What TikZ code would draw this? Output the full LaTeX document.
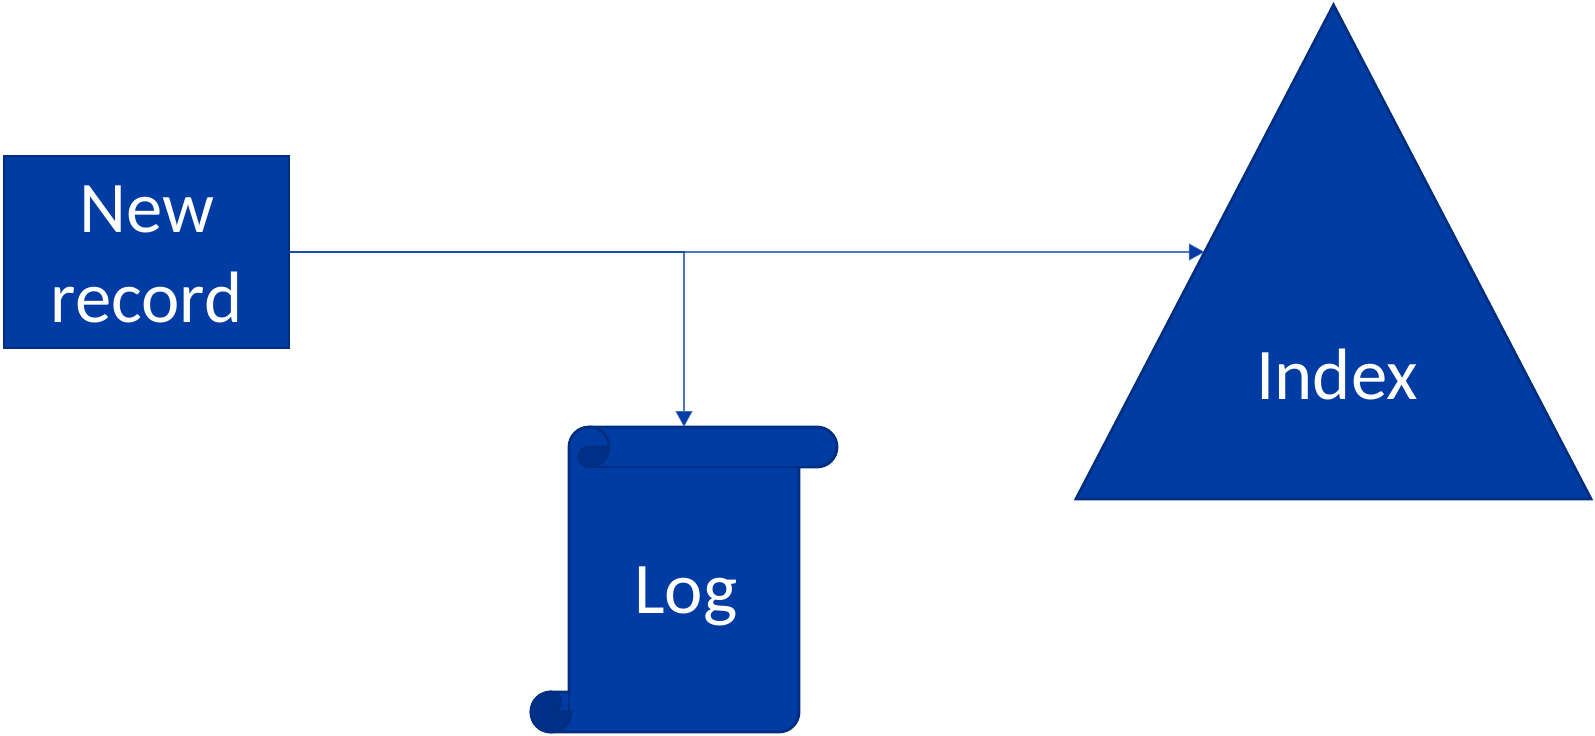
\documentclass[tikz,border=0pt]{standalone}
\usepackage{fontspec}
\setmainfont{Carlito}
\usetikzlibrary{
  arrows.meta,
  shapes.geometric
}
\definecolor{shapeblue}{RGB}{0,60,163}
\definecolor{edgeblue}{RGB}{0,46,128}
\definecolor{foldblue}{RGB}{0,47,135}

\begin{document}
\begin{tikzpicture}[
  every node/.style={font=\fontsize{20.7}{25.6}\selectfont, text=white},
  blockbox/.style={draw=edgeblue, fill=shapeblue, line width=0.8pt, align=center,
               inner sep=0pt, outer sep=0pt, minimum width=2.85cm, minimum height=1.92cm},
  indextri/.style={draw=edgeblue, fill=shapeblue, line width=0.8pt, inner sep=0pt, outer sep=0pt,
               isosceles triangle, isosceles triangle stretches, shape border rotate=90,
               minimum width=5.15cm, minimum height=4.94cm},
  scrollbody/.style={draw=edgeblue, fill=shapeblue, line width=0.8pt},
  scrollfold/.style={draw=edgeblue, fill=foldblue, line width=0.8pt},
  flowline/.style={draw=shapeblue, draw opacity=0.7, line width=0.5pt,
               -{Triangle[length=0.16cm, width=0.17cm, fill=shapeblue]}}
]
\useasboundingbox (0, 0) rectangle (15.95, 7.35);

\node[blockbox] (newrecord) at (1.465, 4.83) {\rule{0pt}{0.51cm}New\\record};

\node[indextri, anchor=lower side] (index) at (13.335, 2.36) {};
\node[anchor=base] (indexlabel) at (13.37, 3.36) {Index};

\filldraw[scrollbody] (5.69, 2.88) arc[start angle=180, end angle=90, radius=0.2]
  -- (8.17, 3.08) arc[start angle=90, end angle=-90, radius=0.2]
  -- (7.99, 2.68) -- (7.99, 0.23) arc[start angle=0, end angle=-90, radius=0.2]
  -- (5.51, 0.03) arc[start angle=270, end angle=90, radius=0.2]
  -- (5.69, 0.43) -- cycle;
\filldraw[scrollfold] (5.89, 2.88) -- (6.09, 2.88) arc[start angle=0, end angle=-90, radius=0.2]
  arc[start angle=270, end angle=90, radius=0.1] -- cycle;
\draw[scrollbody, fill=none] (5.89, 3.08) arc[start angle=90, end angle=0, radius=0.2];
\draw[scrollbody, fill=none] (5.89, 2.68) -- (8.17, 2.68);
\filldraw[scrollfold] (5.51, 0.43) arc[start angle=90, end angle=270, radius=0.2]
  arc[start angle=-90, end angle=0, radius=0.2] -- (5.51, 0.23)
  arc[start angle=270, end angle=450, radius=0.1] -- cycle;
\draw[scrollbody, fill=none] (5.51, 0.43) -- (5.69, 0.43) -- (5.69, 0.23);
\node[anchor=base] (loglabel) at (6.86, 1.22) {Log};

\coordinate (logtop) at (6.84, 3.08);

\draw[flowline] (newrecord.east) -- (index.left side);
\draw[flowline] (newrecord.east) -| (logtop);

\end{tikzpicture}
\end{document}
